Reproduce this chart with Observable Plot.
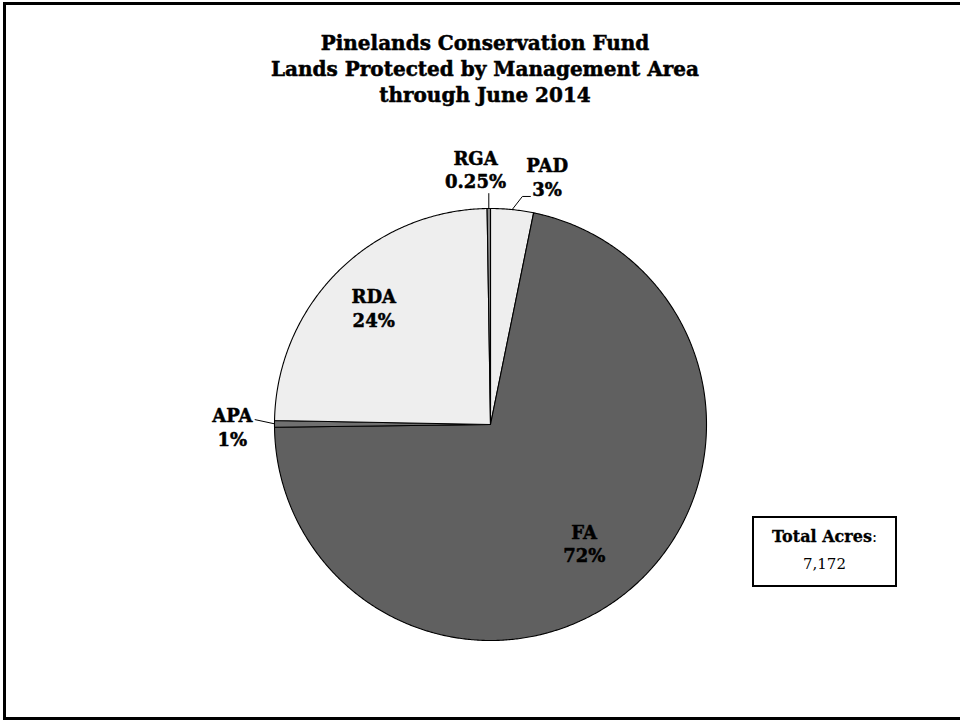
<!DOCTYPE html>
<html>
<head>
<meta charset="utf-8">
<script src="https://cdn.jsdelivr.net/npm/d3@7"></script>
<script src="https://cdn.jsdelivr.net/npm/@observablehq/plot@0.6"></script>
<style>
  html, body { margin: 0; padding: 0; background: #fff; overflow: hidden; }
  #page { position: relative; width: 960px; height: 721px; overflow: hidden; font-family: "DejaVu Serif", serif; }
  #frame { position: absolute; left: 3px; top: 2px; width: 1000px; height: 718px; box-sizing: border-box; border: 3px solid #000; }
  #title { position: absolute; left: 0; top: 30px; width: 970px; text-align: center; font-weight: bold; font-size: 20px; line-height: 26px; color: #000; -webkit-text-stroke: 0.5px #000; }
  #chart { position: absolute; left: 0; top: 0; }
  #total { position: absolute; left: 752px; top: 516px; width: 145px; height: 71px; box-sizing: border-box; border: 2px solid #000; background: #fff; text-align: center; font-size: 15px; line-height: 27px; padding-top: 5px; color: #000; }
  #total b { font-weight: bold; font-size: 16px; -webkit-text-stroke: 0.3px #000; }
</style>
</head>
<body>
<div id="page">
  <div id="frame"></div>
  <div id="chart"></div>
  <div id="title"></div>
  <div id="total"></div>
</div>
<script>
// ---- data ----
const titleLines = ["Pinelands Conservation Fund", "Lands Protected by Management Area", "through June 2014"];
const categories = ["PAD", "FA", "APA", "RDA", "RGA"];
const shares = [3.2, 71.6, 0.5, 24.45, 0.25];            // percent of acres
const percentLabels = ["3%", "72%", "1%", "24%", "0.25%"];
const totalLabel = "Total Acres";
const totalAcres = "7,172";

// ---- styles / layout ----
const fills = ["#eeeeee", "#606060", "#707070", "#eeeeee", "#8c8c8c"];
// label placement: [radius factor, angle offset in degrees], leader type
const labelLayout = [
  {r: 1.178, dA: 7.1, leader: "elbow"},
  {r: 0.70, dA: 1.3, leader: null},
  {r: 1.195, dA: -0.6, leader: "straight"},
  {r: 0.766, dA: 0, leader: null},
  {r: 1.185, dA: -2.9, leader: "vertical"}
];

document.getElementById("title").innerHTML = titleLines.join("<br>");
document.getElementById("total").innerHTML = `<b>${totalLabel}</b>:<br>${totalAcres}`;

const cx = 490, cy = 424, R = 216;
const arcs = d3.pie().sort(null).value(d => d)(shares);
const polar = (a, r) => ({x: r * Math.sin(a), y: -r * Math.cos(a)});
const deg = Math.PI / 180;

// slice polygons
const slicePts = [];
arcs.forEach((a, i) => {
  const n = Math.max(2, Math.ceil((a.endAngle - a.startAngle) / (0.4 * deg)));
  slicePts.push({cat: categories[i], fill: fills[i], x: 0, y: 0});
  for (let k = 0; k <= n; k++) {
    const t = a.startAngle + (a.endAngle - a.startAngle) * k / n;
    slicePts.push({cat: categories[i], fill: fills[i], ...polar(t, 1)});
  }
});

// labels
const labelData = arcs.map((a, i) => {
  const mid = (a.startAngle + a.endAngle) / 2;
  const L = labelLayout[i];
  return {text: categories[i] + "\n" + percentLabels[i], ...polar(mid + L.dA * deg, L.r)};
});

// leader lines
const leaderPts = [];
arcs.forEach((a, i) => {
  const mid = (a.startAngle + a.endAngle) / 2;
  const L = labelLayout[i];
  const p0 = polar(mid, 1);
  if (L.leader === "elbow") {
    const p1 = polar(mid + 2.2 * deg, 1.066);
    leaderPts.push({id: i, ...p0}, {id: i, ...p1}, {id: i, x: p1.x + 0.037, y: p1.y});
  } else if (L.leader === "straight") {
    leaderPts.push({id: i, ...p0}, {id: i, ...polar(mid + 1 * deg, 1.09)});
  } else if (L.leader === "vertical") {
    leaderPts.push({id: i, ...p0}, {id: i, x: p0.x, y: -1.069});
  }
});

const chart = Plot.plot({
  width: 960,
  height: 721,
  margin: 0,
  x: {domain: [-1, 1], range: [cx - R, cx + R], axis: null},
  y: {domain: [-1, 1], range: [cy - R, cy + R], axis: null},
  color: {type: "identity"},
  style: {background: "transparent"},
  marks: [
    Plot.line(slicePts, {x: "x", y: "y", z: "cat", fill: "fill", stroke: "#000", strokeWidth: 1.1, curve: "linear-closed", strokeLinejoin: "round"}),
    Plot.line(leaderPts, {x: "x", y: "y", z: "id", stroke: "#000", strokeWidth: 1}),
    Plot.text(labelData, {x: "x", y: "y", text: "text", fontFamily: "DejaVu Serif", fontWeight: "bold", fontSize: 18, lineHeight: 1.3, fill: "#000", stroke: "#000", strokeWidth: 0.5})
  ]
});
document.getElementById("chart").appendChild(chart);
</script>
</body>
</html>
